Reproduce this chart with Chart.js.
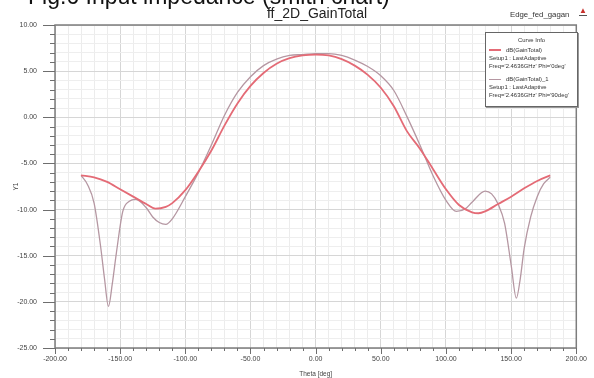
<!DOCTYPE html>
<html>
<head>
<meta charset="utf-8">
<script src="https://cdn.jsdelivr.net/npm/chart.js@4.4.1/dist/chart.umd.min.js"></script>
<style>
    html, body { margin: 0; padding: 0; background: #fff; }
    #wrap { position: relative; width: 594px; height: 378px; overflow: hidden; font-family: 'Liberation Sans', Arial, sans-serif; }
    #gainChart { position: absolute; left: 0; top: 0; }
    #header { position: absolute; left: 28px; top: -17px; font-size: 23px; color: #111; white-space: nowrap; }
    #plotTitle { position: absolute; left: 217px; width: 200px; top: 5px; text-align: center; font-family: 'Liberation Sans Narrow', 'Liberation Sans', sans-serif; font-size: 14px; color: #222; }
    #project { position: absolute; left: 510px; top: 10px; font-size: 7.8px; color: #333; white-space: nowrap; }
    #logo { position: absolute; left: 579px; top: 7px; font-size: 8px; color: #c8302c; border-bottom: 1px solid #555; line-height: 8px; }
    #legend { position: absolute; left: 485px; top: 32px; width: 91px; height: 73px; border: 1px solid #666; box-shadow: 1px 1px 0 #999; background: #fff; font-size: 5.9px; color: #333; line-height: 8px; }
    #legend .head { text-align: center; margin-top: 3px; margin-bottom: 2px; }
    #legend .row { padding-left: 3px; white-space: nowrap; }
    #legend .swatch { display: inline-block; width: 12px; height: 0; vertical-align: middle; margin-right: 5px; }
</style>
</head>
<body>
<div id="wrap">
    <canvas id="gainChart" width="594" height="378"></canvas>
    <div id="header">Fig.6 Input impedance (smith chart)</div>
    <div id="plotTitle">ff_2D_GainTotal</div>
    <div id="project">Edge_fed_gagan</div>
    <div id="logo">&#9650;</div>
    <div id="legend"></div>
</div>
<script>
    'use strict';

    // theta [deg] and gain [dB], Phi = 0deg
    var thetaPhi0 = [-180, -170, -160, -150, -140, -130, -123, -115, -110, -100, -90, -80, -70, -60, -50, -40, -30, -20, -10,
        0, 10, 20, 30, 40, 50, 60, 70, 80, 90, 100, 110, 120, 125, 130, 140, 150, 160, 170, 180];
    var gainPhi0 = [-6.3, -6.5, -7.0, -7.8, -8.6, -9.4, -9.9, -9.7, -9.3, -7.9, -5.9, -3.6, -0.9, 1.5, 3.4, 4.8, 5.8, 6.4, 6.7,
        6.8, 6.7, 6.3, 5.6, 4.6, 3.2, 1.2, -1.5, -3.4, -5.6, -7.8, -9.5, -10.3, -10.4, -10.2, -9.4, -8.6, -7.7, -6.9, -6.3];

    // Phi = 90deg
    var thetaPhi90 = [-180, -175, -170, -165, -162, -159, -156, -153, -148, -143, -138, -130, -125, -120, -115, -110, -100, -90,
        -80, -70, -60, -50, -40, -30, -20, -10, 0, 10, 20, 30, 40, 50, 60, 70, 80, 90, 100, 108, 115, 120, 130, 135, 140, 145,
        150, 154, 157, 160, 165, 170, 175, 180];
    var gainPhi90 = [-6.3, -7.3, -9.3, -14.0, -17.5, -20.5, -18.0, -14.8, -10.2, -9.1, -8.9, -9.8, -10.8, -11.4, -11.6, -11.0, -8.6, -6.0,
        -3.0, 0.2, 2.7, 4.4, 5.6, 6.3, 6.7, 6.8, 6.9, 6.9, 6.7, 6.2, 5.5, 4.5, 2.9, 0.1, -3.0, -6.3, -9.0, -10.2, -9.9, -9.2,
        -8.0, -8.3, -9.4, -11.5, -16.0, -19.6, -17.5, -14.2, -10.8, -8.6, -7.2, -6.5];

    var xTicks = { min: -200, max: 200, step: 10, major: 50 };
    var yTicks = { min: -25, max: 10, step: 1, major: 5 };

    var curves = [
        { label: 'dB(GainTotal)', setup: 'Setup1 : LastAdaptive', freq: "Freq='2.4636GHz' Phi='0deg'", color: '#e46b76', width: 1.8 },
        { label: 'dB(GainTotal)_1', setup: 'Setup1 : LastAdaptive', freq: "Freq='2.4636GHz' Phi='90deg'", color: '#b597a2', width: 1.3 }
    ];

    function toPoints(xs, ys) {
        return xs.map(function (x, i) {
            return { x: x, y: ys[i] };
        });
    }

    function isMajor(value, major) {
        return Math.abs(value % major) < 1e-6;
    }

    // HFSS style frame with long/short tick marks
    var framePlugin = {
        id: 'frame',
        afterDraw: function (chart) {
            var ctx = chart.ctx, area = chart.chartArea;
            var xs = chart.scales.x, ys = chart.scales.y;
            var v, p, len;
            ctx.save();
            ctx.strokeStyle = '#7d7d7d';
            ctx.lineWidth = 1.5;
            ctx.strokeRect(area.left, area.top, area.right - area.left, area.bottom - area.top);
            ctx.lineWidth = 1;
            ctx.strokeStyle = '#6e6e6e';
            ctx.beginPath();
            for (v = yTicks.min; v <= yTicks.max; v += yTicks.step) {
                p = Math.round(ys.getPixelForValue(v)) + 0.5;
                len = isMajor(v, yTicks.major) ? 12 : 5;
                ctx.moveTo(area.left - len, p);
                ctx.lineTo(area.left, p);
            }
            for (v = xTicks.min; v <= xTicks.max; v += xTicks.step) {
                p = Math.round(xs.getPixelForValue(v)) + 0.5;
                len = isMajor(v, xTicks.major) ? 6 : 3;
                ctx.moveTo(p, area.bottom);
                ctx.lineTo(p, area.bottom + len);
            }
            ctx.stroke();
            ctx.restore();
        }
    };

    var chartElement = document.getElementById('gainChart').getContext('2d');
    var gainChart = new Chart(chartElement, {
        type: 'line',
        data: {
            datasets: [
                {
                    label: curves[0].label,
                    data: toPoints(thetaPhi0, gainPhi0),
                    borderColor: curves[0].color,
                    borderWidth: curves[0].width,
                    pointRadius: 0,
                    cubicInterpolationMode: 'monotone',
                    fill: false
                },
                {
                    label: curves[1].label,
                    data: toPoints(thetaPhi90, gainPhi90),
                    borderColor: curves[1].color,
                    borderWidth: curves[1].width,
                    pointRadius: 0,
                    cubicInterpolationMode: 'monotone',
                    fill: false
                }
            ]
        },
        options: {
            responsive: false,
            animation: false,
            layout: { padding: { top: 25, right: 16, bottom: 0, left: 0 } },
            plugins: {
                legend: { display: false },
                title: { display: false },
                tooltip: { enabled: false }
            },
            scales: {
                x: {
                    type: 'linear',
                    min: xTicks.min,
                    max: xTicks.max,
                    afterFit: function (scale) { scale.height = 30; },
                    ticks: {
                        stepSize: xTicks.step,
                        autoSkip: false,
                        maxRotation: 0,
                        padding: 7,
                        color: '#444',
                        font: { family: 'Liberation Sans', size: 7 },
                        callback: function (value) {
                            return isMajor(value, xTicks.major) ? value.toFixed(2) : '';
                        }
                    },
                    grid: {
                        drawTicks: false,
                        color: function (ctx) {
                            return isMajor(ctx.tick.value, xTicks.major) ? '#d6d6d6' : '#ececec';
                        }
                    },
                    border: { display: false },
                    title: {
                        display: true,
                        text: 'Theta [deg]',
                        color: '#444',
                        font: { family: 'Liberation Sans', size: 6.5 },
                        padding: { top: 0, bottom: 0 }
                    }
                },
                y: {
                    min: yTicks.min,
                    max: yTicks.max,
                    afterFit: function (scale) { scale.width = 55; },
                    ticks: {
                        stepSize: yTicks.step,
                        autoSkip: false,
                        padding: 18,
                        color: '#444',
                        font: { family: 'Liberation Sans', size: 7 },
                        callback: function (value) {
                            return isMajor(value, yTicks.major) ? value.toFixed(2) : '';
                        }
                    },
                    grid: {
                        drawTicks: false,
                        color: function (ctx) {
                            return isMajor(ctx.tick.value, yTicks.major) ? '#d6d6d6' : '#eeeeee';
                        }
                    },
                    border: { display: false },
                    title: {
                        display: true,
                        text: 'Y1',
                        color: '#444',
                        font: { family: 'Liberation Sans', size: 6.5 },
                        padding: { top: 12, bottom: 0 }
                    }
                }
            }
        },
        plugins: [framePlugin]
    });

    // curve info box, like the HFSS report legend
    var legendHtml = '<div class="head">Curve Info</div>';
    curves.forEach(function (c, i) {
        legendHtml += '<div class="row"' + (i > 0 ? ' style="margin-top:5px"' : '') + '>' +
            '<span class="swatch" style="border-top:' + (c.width + 0.4) + 'px solid ' + c.color + '"></span>' + c.label + '</div>' +
            '<div class="row">' + c.setup + '</div>' +
            '<div class="row">' + c.freq + '</div>';
    });
    document.getElementById('legend').innerHTML = legendHtml;
</script>
</body>
</html>
